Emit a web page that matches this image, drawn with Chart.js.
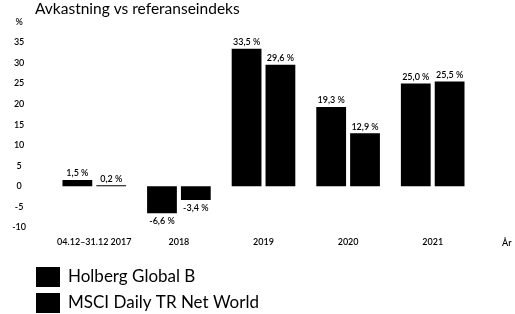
<!DOCTYPE html>
<html>
<head>
<meta charset="utf-8">
<script src="https://cdn.jsdelivr.net/npm/chart.js@4"></script>
<style>
  html, body { margin: 0; padding: 0; background: #fff; }
  #wrap { width: 515px; height: 314px; }
</style>
</head>
<body>
<div id="wrap"><canvas id="chart" width="515" height="314"></canvas></div>
<script>
// data
var periods = ['04.12\u201331.12 2017', '2018', '2019', '2020', '2021'];
var holberg = [1.5, -6.6, 33.5, 19.3, 25.0];
var msci = [0.2, -3.4, 29.6, 12.9, 25.5];
var seriesNames = ['Holberg Global B', 'MSCI Daily TR Net World'];
var chartTitle = 'Avkastning vs referanseindeks';
var xUnit = '\u00c5r';

var FONT = 'Lato, "Open Sans", sans-serif';

function fmt(v) {
  return v.toFixed(1).replace('.', ',') + ' %';
}

// bar value labels, title, legend and the "År" text
var extras = {
  id: 'extras',
  afterDatasetsDraw: function (chart) {
    var ctx = chart.ctx;
    ctx.save();
    ctx.fillStyle = '#000';
    ctx.font = '600 9px ' + FONT;
    ctx.textAlign = 'center';
    chart.data.datasets.forEach(function (ds, i) {
      chart.getDatasetMeta(i).data.forEach(function (bar, j) {
        var v = ds.data[j];
        if (v >= 0) {
          ctx.textBaseline = 'bottom';
          ctx.fillText(fmt(v), bar.x, bar.y - 2);
        } else {
          ctx.textBaseline = 'top';
          ctx.fillText(fmt(v), bar.x, bar.y + 3);
        }
      });
    });
    ctx.restore();
  },
  afterDraw: function (chart) {
    var ctx = chart.ctx;
    ctx.save();
    ctx.fillStyle = '#000';
    ctx.textAlign = 'left';
    ctx.textBaseline = 'middle';
    ctx.font = '15.5px ' + FONT;
    ctx.fillText(chartTitle, 35, 9);

    ctx.font = '600 9px ' + FONT;
    ctx.fillText(xUnit, 502, 243);

    ctx.font = '17px ' + FONT;
    chart.data.datasets.forEach(function (ds, i) {
      var y = 267 + i * 26;
      ctx.fillStyle = ds.backgroundColor;
      ctx.fillRect(36, y, 24, 20);
      ctx.fillStyle = '#000';
      ctx.fillText(ds.label, 68, y + 10);
    });
    ctx.restore();
  }
};

new Chart(document.getElementById('chart'), {
  type: 'bar',
  data: {
    labels: periods,
    datasets: [
      { label: seriesNames[0], data: holberg, backgroundColor: '#000' },
      { label: seriesNames[1], data: msci, backgroundColor: '#000' }
    ]
  },
  options: {
    responsive: false,
    animation: false,
    categoryPercentage: 0.8,
    barPercentage: 0.88,
    layout: { padding: { top: 22, right: 40, bottom: 58, left: 0 } },
    plugins: {
      legend: { display: false },
      title: { display: false },
      tooltip: { enabled: false }
    },
    scales: {
      x: {
        grid: { display: false, drawTicks: false },
        border: { display: false },
        ticks: { color: '#000', font: { size: 9, family: FONT, weight: '600' }, padding: 9, maxRotation: 0 }
      },
      y: {
        min: -10,
        max: 40,
        afterFit: function (scale) {
          // fixed axis width, and drop the tick padding from the vertical padding
          scale.width = 52;
          scale.paddingTop = 0;
          scale.paddingBottom = 0;
        },
        grid: { display: false, drawTicks: false },
        border: { display: false },
        ticks: {
          stepSize: 5,
          color: '#000',
          font: { size: 9, family: FONT, weight: '600' },
          crossAlign: 'center',
          padding: 26,
          callback: function (v) { return v === 40 ? '%' : v; }
        }
      }
    }
  },
  plugins: [extras]
});
</script>
</body>
</html>
